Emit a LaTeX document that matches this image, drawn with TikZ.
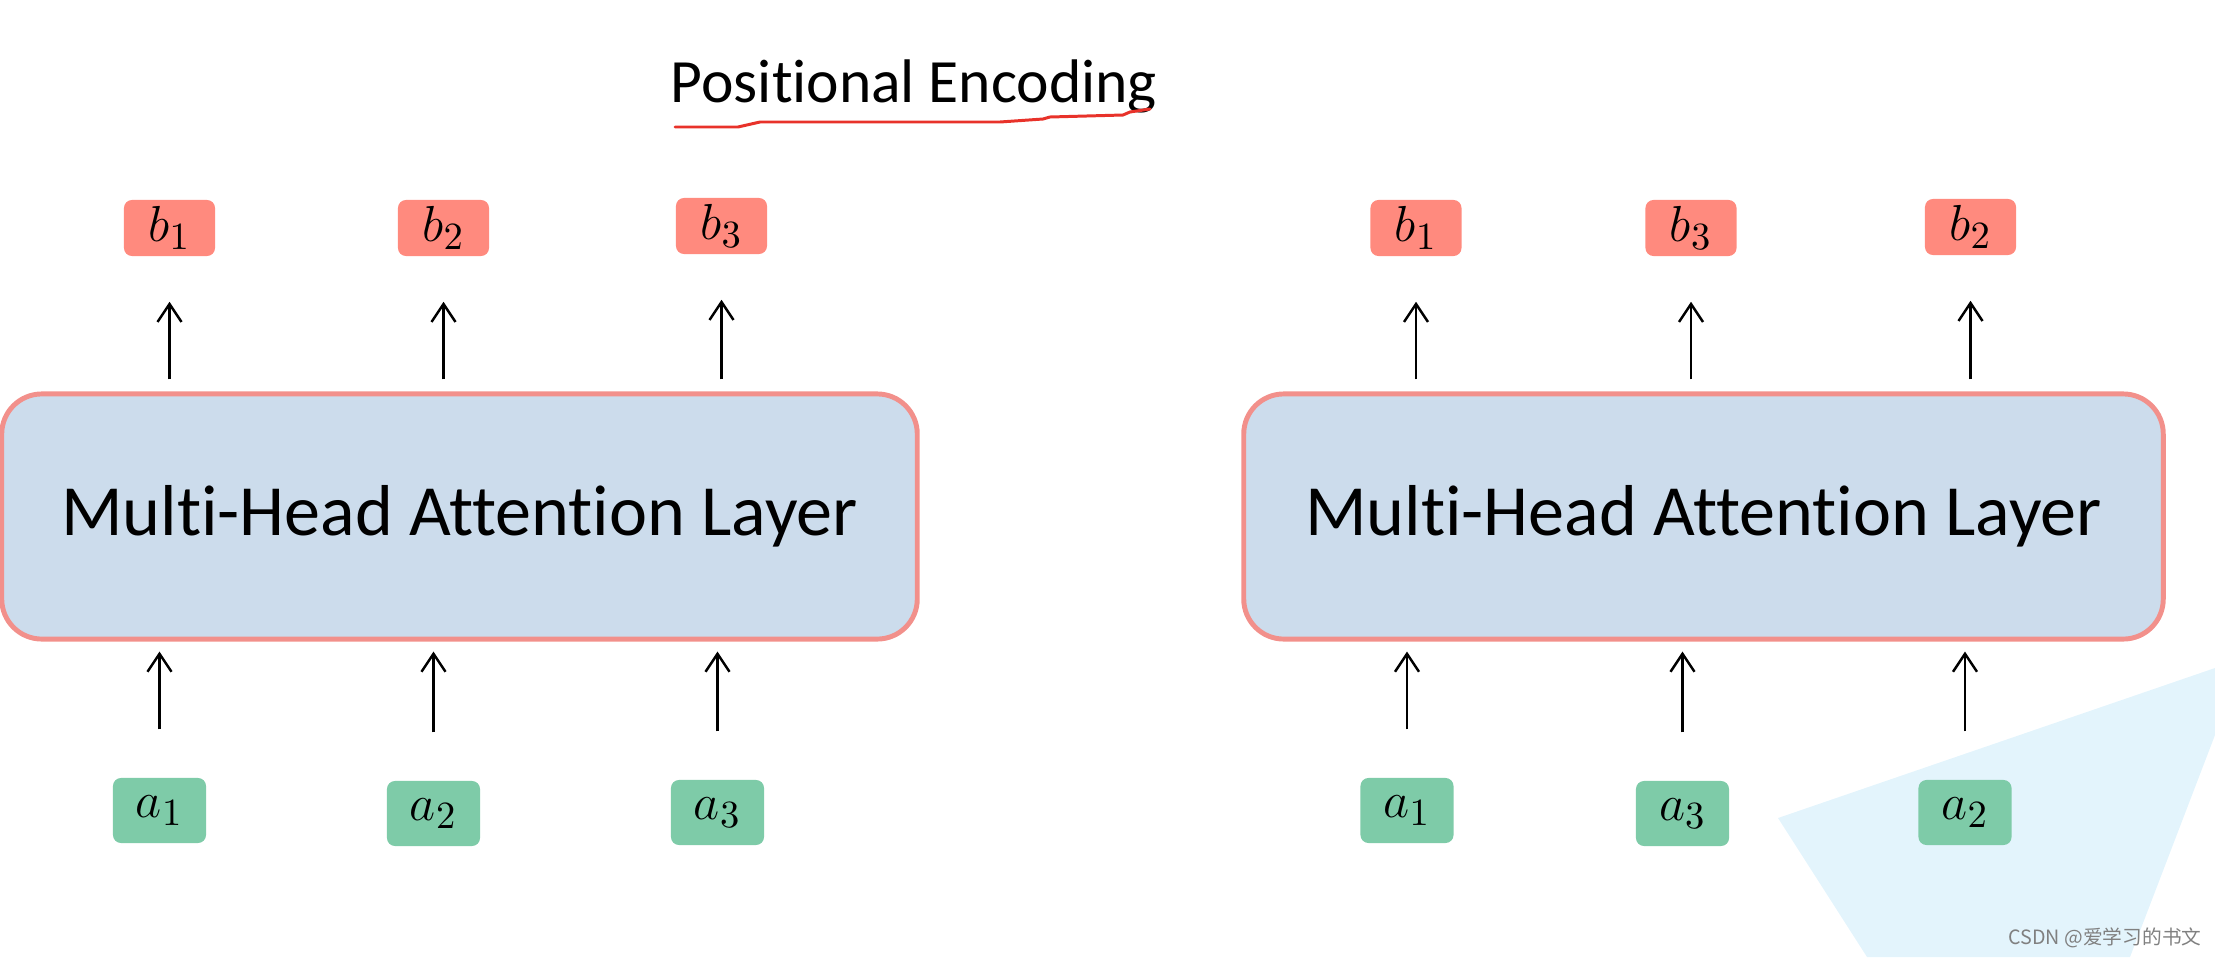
\documentclass[tikz,border=0pt]{standalone}
\usepackage{fontspec}
\setmainfont{Carlito}[Ligatures=NoCommon]
\newfontfamily\cjk{Noto Sans CJK SC}
\usepackage{amsmath}
\usetikzlibrary{arrows.meta}
\definecolor{outred}{HTML}{FF8A7E}
\definecolor{ingreen}{HTML}{7ECBA8}
\definecolor{layfill}{HTML}{CCDCEC}
\definecolor{layline}{HTML}{F2908B}
\definecolor{penred}{HTML}{E8322A}
\definecolor{wedgeblue}{HTML}{E3F4FC}

\begin{document}
\begin{tikzpicture}[x=0.01cm, y=-0.01cm,
		outbox/.style={fill=outred, rounded corners=0.08cm, minimum width=0.91cm, minimum height=0.56cm, inner sep=0pt, font=\fontsize{15}{17}\selectfont},
		inbox/.style={fill=ingreen, rounded corners=0.08cm, minimum width=0.93cm, minimum height=0.65cm, inner sep=0pt, font=\fontsize{15}{17}\selectfont},
		layer/.style={draw=layline, line width=1.4pt, fill=layfill, rounded corners=0.4cm, minimum height=2.45cm, inner sep=0pt, font=\fontsize{20.5}{24}\selectfont},
		uparrow/.style={line width=0.7pt, -{Straight Barb[length=1.8mm,width=2.4mm]}}]
			\useasboundingbox (0,0) rectangle (2215,957);
			\fill [color=wedgeblue] (1778,818) -- (2215,668) -- (2215,735) -- (2130,957) -- (1867,957) -- cycle;
			\node (title) [anchor=base, font=\fontsize{17.5}{21}\selectfont] at (914,102) {Positional Encoding};
			\draw [penred, line width=0.85pt, line cap=round, line join=round] (675,127) -- (738,127) -- (760,122) -- (1000,122) -- (1043,119) -- (1050,117) -- (1123,115) -- (1130,112) -- (1150,109);
			\node (layL) [layer, minimum width=9.15cm] at (459.5,516.5) {Multi-Head Attention Layer};
			\node (layR) [layer, minimum width=9.19cm] at (1703.5,516.5) {Multi-Head Attention Layer};
			\node (bL1) [outbox] at (169.5,228) {$b_1$};
			\node (bL2) [outbox] at (443.5,228) {$b_2$};
			\node (bL3) [outbox] at (721.5,226) {$b_3$};
			\node (bR1) [outbox] at (1416,228) {$b_1$};
			\node (bR3) [outbox] at (1691,228) {$b_3$};
			\node (bR2) [outbox] at (1970.5,227) {$b_2$};
			\node (aL1) [inbox] at (159.5,810.5) {$a_1$};
			\node (aL2) [inbox] at (433.5,813.5) {$a_2$};
			\node (aL3) [inbox] at (717.5,812.5) {$a_3$};
			\node (aR1) [inbox] at (1407,810.5) {$a_1$};
			\node (aR3) [inbox] at (1682.5,813.5) {$a_3$};
			\node (aR2) [inbox] at (1965,812.5) {$a_2$};
			\foreach \b in {bL1,bL2,bL3}
				\draw [uparrow, shorten <=0.12cm, shorten >=0.45cm] (layL.north -| \b) -- (\b.south);
			\foreach \b in {bR1,bR3,bR2}
				\draw [uparrow, shorten <=0.12cm, shorten >=0.45cm] (layR.north -| \b) -- (\b.south);
			\foreach \a in {aL1,aL2,aL3}
				\draw [uparrow, shorten <=0.48cm, shorten >=0.1cm] (\a.north) -- (\a.north |- layL.south);
			\foreach \a in {aR1,aR3,aR2}
				\draw [uparrow, shorten <=0.48cm, shorten >=0.1cm] (\a.north) -- (\a.north |- layR.south);
			\node (mark) [anchor=base, text=gray, font=\fontsize{5.6}{7}\cjk] at (2105,944) {CSDN @爱学习的书文};
		\end{tikzpicture}
\end{document}
